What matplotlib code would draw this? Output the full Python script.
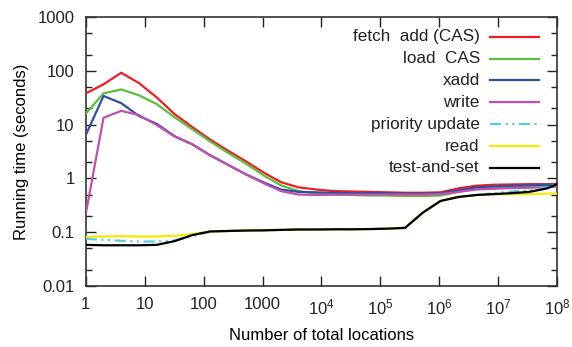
import matplotlib
matplotlib.use("Agg")
import matplotlib.pyplot as plt
from matplotlib.ticker import FixedLocator, FixedFormatter, NullLocator

plt.rcParams['font.family'] = ['Liberation Sans', 'DejaVu Sans']
plt.rcParams['mathtext.fontset'] = 'custom'
plt.rcParams['mathtext.rm'] = 'Liberation Sans'
plt.rcParams['mathtext.default'] = 'regular'

# x = 2^k locations, k = 0..27
locations = [2 ** k for k in range(28)]

fetch_add = [38, 56, 92, 59, 32, 15.7, 9.0, 5.3, 3.3, 2.1, 1.3, 0.85, 0.68, 0.62,
             0.58, 0.57, 0.56, 0.55, 0.54, 0.54, 0.55, 0.65, 0.73, 0.76, 0.77, 0.78, 0.78, 0.80]
load_cas = [16, 38, 45, 35, 24, 13.7, 8.2, 4.9, 3.0, 1.9, 1.15, 0.74, 0.58, 0.52,
            0.50, 0.49, 0.48, 0.48, 0.47, 0.47, 0.48, 0.56, 0.64, 0.68, 0.70, 0.72, 0.74, 0.80]
xadd = [6.4, 34, 25, 14.4, 10.3, 6.1, 4.3, 2.7, 1.8, 1.2, 0.85, 0.62, 0.56, 0.55,
        0.54, 0.53, 0.53, 0.53, 0.52, 0.52, 0.53, 0.60, 0.68, 0.71, 0.73, 0.74, 0.76, 0.80]
write = [0.22, 13.4, 18, 15, 9.8, 6.0, 4.3, 2.7, 1.8, 1.2, 0.82, 0.58, 0.50, 0.49,
         0.50, 0.50, 0.50, 0.50, 0.50, 0.50, 0.51, 0.56, 0.62, 0.64, 0.66, 0.67, 0.68, 0.72]
priority = [0.075, 0.072, 0.069, 0.067, 0.067, 0.070, 0.085, 0.101, 0.105, 0.107, 0.108, 0.110,
            0.112, 0.112, 0.113, 0.113, 0.114, 0.116, 0.120, 0.23, 0.38, 0.45, 0.49, 0.53,
            0.57, 0.60, 0.68, 0.90]
read = [0.082, 0.083, 0.084, 0.083, 0.083, 0.085, 0.092, 0.102, 0.105, 0.107, 0.108, 0.110,
        0.112, 0.112, 0.113, 0.113, 0.114, 0.116, 0.120, 0.23, 0.38, 0.45, 0.49, 0.50,
        0.51, 0.51, 0.52, 0.52]
test_and_set = [0.058, 0.057, 0.057, 0.057, 0.058, 0.068, 0.088, 0.103, 0.105, 0.107, 0.108, 0.110,
                0.112, 0.112, 0.113, 0.113, 0.114, 0.116, 0.120, 0.23, 0.38, 0.45, 0.49, 0.51,
                0.53, 0.56, 0.65, 0.90]

names = ['fetch  add (CAS)', 'load  CAS', 'xadd', 'write', 'priority update', 'read', 'test-and-set']
series = [fetch_add, load_cas, xadd, write, priority, read, test_and_set]
colors = ['#ee1c24', '#5cbf3c', '#2f4fa3', '#c04fb0', '#5ccbe0', '#f2ea00', '#000000']
styles = ['-', '-', '-', '-', (0, (5, 2, 1, 2, 1, 2)), '-', '-']

xticks = [10 ** i for i in range(9)]
xlabels = ['1', '10', '100', '1000', '$10^{4}$', '$10^{5}$', '$10^{6}$', '$10^{7}$', '$10^{8}$']
yticks = [0.01, 0.1, 1, 10, 100, 1000]
ylabels = ['0.01', '0.1', '1', '10', '100', '1000']

fig = plt.figure(figsize=(5.72, 3.47), dpi=100)
ax = fig.add_axes([0.150, 0.176, 0.824, 0.775])

# plotted in order, later ones on top (like gnuplot)
for i in range(len(series)):
    ax.plot(locations, series[i], color=colors[i], linestyle=styles[i], lw=1.6,
            zorder=3 + i)

ax.set_xscale('log')
ax.set_yscale('log')
ax.set_xlim(1, 1e8)
ax.set_ylim(0.01, 1000)

ax.xaxis.set_major_locator(FixedLocator(xticks))
ax.xaxis.set_major_formatter(FixedFormatter(xlabels))
ax.xaxis.set_minor_locator(NullLocator())
ax.yaxis.set_major_locator(FixedLocator(yticks))
ax.yaxis.set_major_formatter(FixedFormatter(ylabels))
minor_y = [m * 10 ** e for e in range(-2, 3) for m in (2, 5)]
ax.yaxis.set_minor_locator(FixedLocator(minor_y))

ax.tick_params(which='both', direction='in', top=True, right=True, labelsize=12,
               colors='#222222', width=1)
ax.tick_params(which='major', length=7, pad=8)
ax.tick_params(which='minor', length=4)
for s in ax.spines.values():
    s.set_color('#333333')
    s.set_linewidth(1.2)

ax.set_xlabel('Number of total locations', fontsize=12, labelpad=8)
ax.set_ylabel('Running time (seconds)', fontsize=12, labelpad=6)

# gnuplot style key: right-aligned labels, sample line to the right
key_top = 0.927
key_step = 0.0814
for i in range(len(series)):
    ky = key_top - i * key_step
    ax.text(0.836, ky, names[i], transform=ax.transAxes, ha='right', va='center',
            fontsize=12.3, color='#222222')
    ax.plot([0.858, 0.962], [ky, ky], transform=ax.transAxes, color=colors[i],
            linestyle=styles[i], lw=1.6, zorder=3 + i)

fig.savefig('out.png', dpi=100)
